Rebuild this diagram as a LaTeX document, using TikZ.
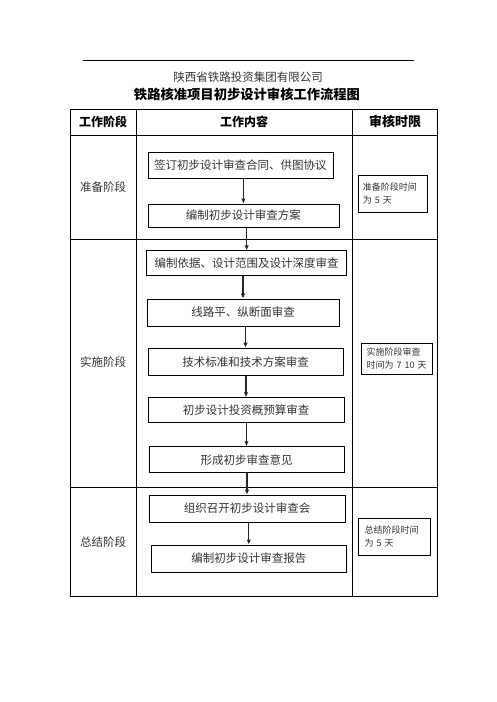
\documentclass[tikz,border=0pt]{standalone}
\usepackage{fontspec}
\newfontfamily\cjk{Noto Sans CJK SC}
\usetikzlibrary{arrows.meta}

\begin{document}
\begin{tikzpicture}[x=1pt, y=-1pt,
    every node/.style={font=\cjk\fontsize{11.5}{13}\selectfont, text=black!80},
    stepbox/.style={draw=black, line width=0.8pt, minimum width=#1, minimum height=26, inner sep=0pt},
    notebox/.style={draw=black, line width=0.8pt, anchor=north west, text width=60, align=left, inner sep=4pt, font=\cjk\fontsize{9}{12.5}\selectfont},
    head/.style={font=\cjk\bfseries\fontsize{12}{14}\selectfont, text=black},
    arr/.style={-{Latex[length=5pt,width=4.5pt]}, line width=1.3pt, black!85}]
    \useasboundingbox (0,0) rectangle (496,702);

    \draw[line width=0.8pt] (83,60) -- (414,60); % top rule
    \node (company) at (248,77) {陕西省铁路投资集团有限公司};
    \node[font=\cjk\bfseries\fontsize{13.3}{15}\selectfont, text=black] (title) at (247,94) {铁路核准项目初步设计审核工作流程图};

    % table
    \draw[line width=0.8pt] (70.7,109) rectangle (437.5,596);
    \draw[line width=0.8pt] (70.7,135.5) -- (437.5,135.5);
    \draw[line width=0.8pt] (70.7,239) -- (437.5,239);
    \draw[line width=0.8pt] (70.7,487) -- (437.5,487);
    \draw[line width=0.8pt] (136,109) -- (136,596);
    \draw[line width=0.8pt] (352.7,109) -- (352.7,596);

    \node[head] (h1) at (103,121.5) {工作阶段};
    \node[head] (h2) at (244,121.5) {工作内容};
    \node[head, font=\cjk\bfseries\fontsize{13}{15}\selectfont] (h3) at (395,121.5) {审核时限};

    \node (p1) at (103,187.5) {准备阶段};
    \node (p2) at (103,362) {实施阶段};
    \node (p3) at (103,542) {总结阶段};

    % work steps
    \node[stepbox=185] (b1) at (240.4,165.3) {签订初步设计审查合同、供图协议};
    \node[stepbox=191, minimum height=23] (b2) at (243.4,215.5) {编制初步设计审查方案};
    \node[stepbox=200, minimum height=25] (b3) at (246.7,263.2) {编制依据、设计范围及设计深度审查};
    \node[stepbox=192, minimum height=27] (b4) at (243,312.5) {线路平、纵断面审查};
    \node[stepbox=195, minimum height=27.7] (b5) at (245.5,361.9) {技术标准和技术方案审查};
    \node[stepbox=196, minimum height=25] (b6) at (246,410.2) {初步设计投资概预算审查};
    \node[stepbox=195] (b7) at (246.5,459.7) {形成初步审查意见};
    \node[stepbox=196, minimum height=27] (b8) at (247,508.5) {组织召开初步设计审查会};
    \node[stepbox=195.7, minimum height=27] (b9) at (248.8,558.5) {编制初步设计审查报告};

    \draw[arr] (b1.south -| b2.north) -- (b2.north);
    \draw[arr] (b2.south -| b3.north) -- (b3.north);
    \draw[arr] (b3.south -| b4.north) -- (b4.north);
    \draw[arr] (b4.south -| b5.north) -- (b5.north);
    \draw[arr] (b5.south -| b6.north) -- (b6.north);
    \draw[arr] (b6.south -| b7.north) -- (b7.north);
    \draw[arr] (b7.south -| b8.north) -- (b8.north);
    \draw[arr] (b8.south -| b9.north) -- (b9.north);

    % time limits
    \node[notebox, minimum height=36.7, minimum width=68.4] (t1) at (358.3,175) {准备阶段时间\\为 5 天};
    \node[notebox, minimum height=31.3, minimum width=71] (t2) at (360.7,342.7) {实施阶段审查\\时间为 7 10 天};
    \node[notebox, minimum height=37.3, minimum width=71.7] (t3) at (358.3,517.7) {总结阶段时间\\为 5 天};
\end{tikzpicture}
\end{document}
